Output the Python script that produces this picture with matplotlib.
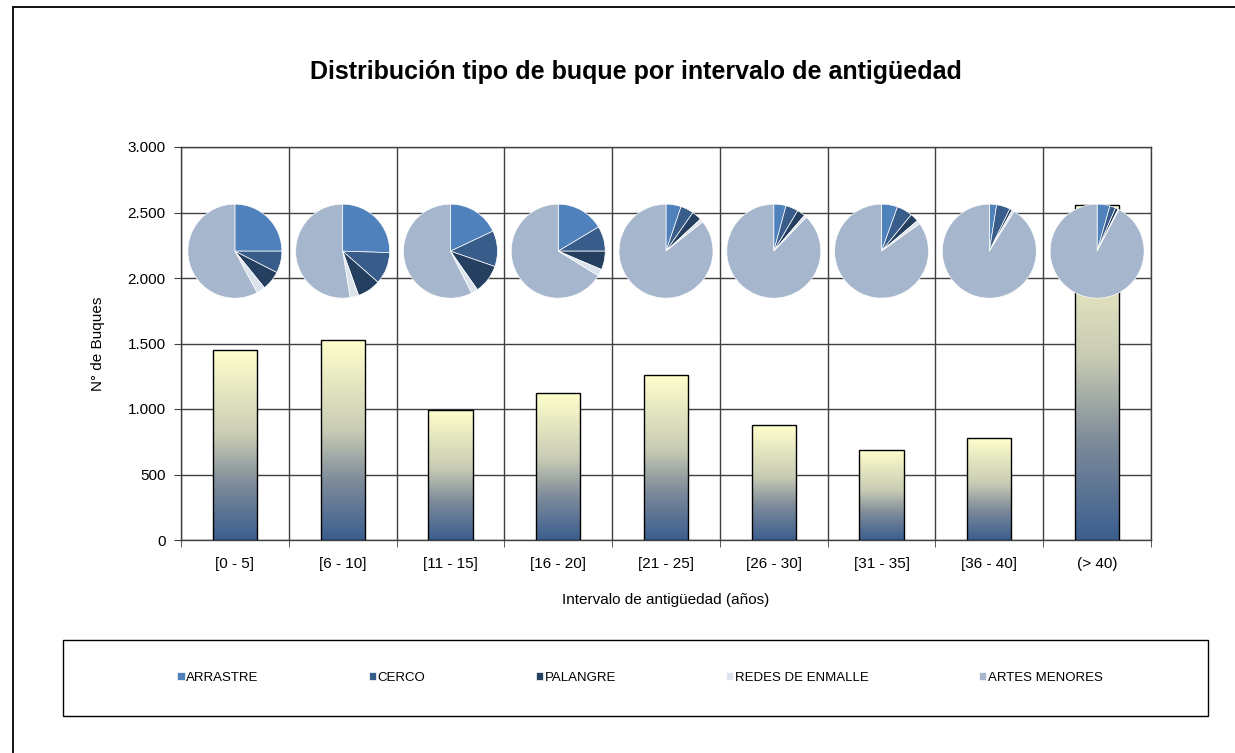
import matplotlib.pyplot as plt
import numpy as np
from matplotlib.colors import LinearSegmentedColormap
from matplotlib.patches import Rectangle
from matplotlib.ticker import FuncFormatter, MultipleLocator

plt.rcParams['font.family'] = ['Liberation Sans', 'DejaVu Sans']

# data
categories = ['[0 - 5]', '[6 - 10]', '[11 - 15]', '[16 - 20]', '[21 - 25]',
              '[26 - 30]', '[31 - 35]', '[36 - 40]', '(> 40)']
buques = [1450, 1525, 995, 1123, 1261, 880, 689, 780, 2555]

tipos = ['ARRASTRE', 'CERCO', 'PALANGRE', 'REDES DE ENMALLE', 'ARTES MENORES']
arrastre = [25.0, 25.5, 18.0, 16.4, 5.2, 4.2, 5.5, 2.5, 4.4]
cerco = [7.5, 11.0, 12.3, 8.6, 4.5, 4.3, 5.4, 4.7, 2.0]
palangre = [6.7, 8.0, 10.0, 6.4, 3.4, 2.8, 2.9, 0.9, 1.0]
redes = [3.0, 3.0, 2.3, 2.4, 1.2, 0.9, 1.3, 0.8, 0.3]
artes = [57.8, 52.5, 57.4, 66.2, 85.7, 87.8, 84.9, 91.1, 92.3]

pie_colors = ['#4F81BD', '#385D8A', '#243F60', '#DCE3EC', '#A6B6CC']
grid_col = '#404040'

W, H = 1235, 753
fig = plt.figure(figsize=(W / 100, H / 100), dpi=100)
ax = fig.add_axes([181 / W, 1 - 540 / H, (1151 - 181) / W, (540 - 147) / H])

# outer chart frame (only top and left edges fall inside the picture)
fig.add_artist(Rectangle((13 / W, -0.1), 1.2, 1 - 7 / H + 0.1, transform=fig.transFigure,
                         fill=False, edgecolor='black', linewidth=1.3))

x = np.arange(len(categories))
bar_w = 0.41

# bars with a yellow -> blue vertical gradient
cmap = LinearSegmentedColormap.from_list(
    'grad', [(0.0, '#3B5E8F'), (0.3, '#7F8C9A'), (0.55, '#C9CCB4'), (1.0, '#FFFFCC')])
grad = np.linspace(0, 1, 256).reshape(-1, 1)
bars = ax.bar(x, buques, width=bar_w, color='none', edgecolor='black', linewidth=1, zorder=4)
for b in bars:
    x0, y0 = b.get_x(), b.get_y()
    im = ax.imshow(grad, extent=(x0, x0 + b.get_width(), y0, y0 + b.get_height()),
                   origin='lower', aspect='auto', cmap=cmap, zorder=3)
    im.set_clip_path(b)
ax.set_xlim(-0.5, len(categories) - 0.5)
ax.set_ylim(0, 3000)

# grid and ticks
ax.yaxis.set_major_locator(MultipleLocator(500))
ax.yaxis.set_major_formatter(FuncFormatter(lambda v, p: f'{int(v):,}'.replace(',', '.')))
ax.set_xticks(x)
ax.set_xticklabels(categories)
ax.set_xticks(np.arange(-0.5, len(categories)), minor=True)
ax.tick_params(axis='x', which='major', length=0, pad=12, labelsize=11)
ax.tick_params(axis='x', which='minor', length=5, direction='out', color=grid_col)
ax.tick_params(axis='y', length=5, direction='out', color=grid_col, labelsize=11, pad=6)
ax.grid(axis='y', which='major', color=grid_col, linewidth=1)
ax.grid(axis='x', which='minor', color=grid_col, linewidth=1)
ax.set_axisbelow(True)
for s in ax.spines.values():
    s.set_color(grid_col)
    s.set_linewidth(1)

ax.set_xlabel('Intervalo de antigüedad (años)', fontsize=11, labelpad=16)
ax.set_ylabel('N° de Buques', fontsize=11, labelpad=16)
fig.text(636 / W, 1 - 72 / H, 'Distribución tipo de buque por intervalo de antigüedad',
         ha='center', va='center', fontsize=18, fontweight='bold')

# pies above each bar
pie_y = 2205
rx = 0.445
ry = 366
wedges = None
for i in range(len(categories)):
    pax = ax.inset_axes([i - rx, pie_y - ry, 2 * rx, 2 * ry], transform=ax.transData, zorder=6)
    vals = [arrastre[i], cerco[i], palangre[i], redes[i], artes[i]]
    w, _ = pax.pie(vals, colors=pie_colors, startangle=90, counterclock=False,
                   radius=1.0, wedgeprops=dict(edgecolor='white', linewidth=0.5))
    pax.set_xlim(-1.02, 1.02)
    pax.set_ylim(-1.02, 1.02)
    pax.set_aspect('equal')
    pax.axis('off')
    if wedges is None:
        wedges = w

# legend box
fig.add_artist(Rectangle((63 / W, 1 - 716 / H), (1208 - 63) / W, (716 - 640) / H,
                         transform=fig.transFigure, fill=False, edgecolor='black', linewidth=1))
fig.legend(wedges, tipos, loc='center', bbox_to_anchor=(640 / W, 1 - 678 / H), ncol=5,
           frameon=False, fontsize=9.5, handlelength=0.55, handleheight=0.55,
           handletextpad=0.12, columnspacing=8.35)

fig.savefig('out.png', dpi=100)
